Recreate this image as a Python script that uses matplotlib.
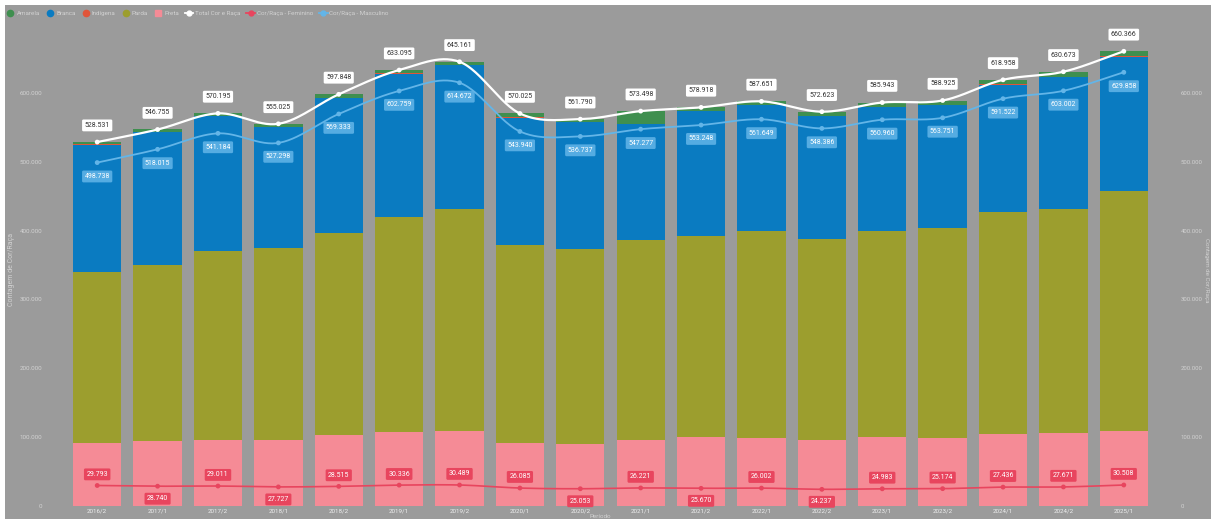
import matplotlib
matplotlib.use('Agg')
import matplotlib.pyplot as plt
from matplotlib.patches import Rectangle
from matplotlib.lines import Line2D
from matplotlib.ticker import FuncFormatter
import numpy as np

plt.rcParams['font.family'] = ['Roboto', 'DejaVu Sans']

# dados
periodos = ['2016/2', '2017/1', '2017/2', '2018/1', '2018/2', '2019/1', '2019/2', '2020/1', '2020/2',
            '2021/1', '2021/2', '2022/1', '2022/2', '2023/1', '2023/2', '2024/1', '2024/2', '2025/1']
total = [528531, 546755, 570195, 555025, 597848, 633095, 645161, 570025, 561790,
         573498, 578918, 587651, 572623, 585943, 588925, 618958, 630673, 660366]
masculino = [498738, 518015, 541184, 527298, 569333, 602759, 614672, 543940, 536737,
             547277, 553248, 561649, 548386, 560960, 563751, 591522, 603002, 629858]
feminino = [29793, 28740, 29011, 27727, 28515, 30336, 30489, 26085, 25053,
            26221, 25670, 26002, 24237, 24983, 25174, 27436, 27671, 30508]
preta = [92000, 94900, 95900, 95900, 103200, 108000, 109400, 92000, 90100,
         95900, 100700, 98800, 95900, 100300, 98800, 104700, 106100, 109400]
parda = [248000, 255400, 274700, 279100, 293600, 312000, 322300, 287400, 283400,
         290700, 291700, 300900, 292100, 299400, 305200, 322600, 325600, 348400]
branca = [184700, 192700, 195300, 174800, 195800, 207900, 208300, 184400, 184000,
          168100, 181300, 182700, 178400, 180000, 178600, 184500, 190800, 194900]
indigena = [430, 460, 395, 425, 448, 395, 461, 425, 390,
            398, 418, 451, 423, 443, 425, 358, 373, 366]
amarela = [3400, 3400, 3900, 4800, 4800, 4800, 4800, 5800, 3900,
           18400, 4800, 4800, 5800, 5800, 5800, 6800, 7800, 7300]

# cores
BG = '#9b9b9b'
C_AMARELA = '#3f8f4f'
C_BRANCA = '#0a7bc1'
C_INDIGENA = '#e0553a'
C_PARDA = '#9c9e2e'
C_PRETA = '#f58b96'
C_TOTAL = '#ffffff'
C_FEM = '#e8455e'
C_MASC = '#63b5e8'
C_TXT = '#d2d2d2'

W, H = 1211, 519


def fmt_br(v):
    return f'{int(round(v)):,}'.replace(',', '.')


def smooth(y, n=30):
    # curva suave (hermite / catmull-rom) so para desenhar a linha
    y = np.asarray(y, dtype=float)
    k = len(y)
    m = np.zeros(k)
    m[1:-1] = (y[2:] - y[:-2]) / 2
    m[0] = y[1] - y[0]
    m[-1] = y[-1] - y[-2]
    xs, ys = [], []
    for i in range(k - 1):
        t = np.linspace(0, 1, n, endpoint=False)
        h00 = 2 * t**3 - 3 * t**2 + 1
        h10 = t**3 - 2 * t**2 + t
        h01 = -2 * t**3 + 3 * t**2
        h11 = t**3 - t**2
        xs.append(i + t)
        ys.append(h00 * y[i] + h10 * m[i] + h01 * y[i + 1] + h11 * m[i + 1])
    xs.append([k - 1])
    ys.append([y[-1]])
    return np.concatenate(xs), np.concatenate(ys)


fig = plt.figure(figsize=(W / 100, H / 100), dpi=100)
fig.patch.set_facecolor('white')
fig.patches.append(Rectangle((5 / W, 0), 1, 1 - 5 / H, transform=fig.transFigure,
                             facecolor=BG, edgecolor='none', zorder=-10))

ax = fig.add_axes([67 / W, 13 / H, (1154 - 67) / W, (506 - 24) / H])
ax.set_facecolor('none')
x = np.arange(len(periodos))
wid = 0.8

bottom = np.zeros(len(x))
for vals, col in [(preta, C_PRETA), (parda, C_PARDA), (branca, C_BRANCA),
                  (indigena, C_INDIGENA), (amarela, C_AMARELA)]:
    ax.bar(x, vals, wid, bottom=bottom, color=col, edgecolor='none', zorder=2)
    bottom += np.array(vals)

for vals, col, lw in [(total, C_TOTAL, 1.6), (masculino, C_MASC, 1.3), (feminino, C_FEM, 1.2)]:
    sx, sy = smooth(vals)
    ax.plot(sx, sy, color=col, linewidth=lw, zorder=4)
    ax.scatter(x, vals, s=12, color=col, zorder=5, edgecolors='none')

for i in range(len(x)):
    ax.annotate(fmt_br(total[i]), (x[i], total[i]), xytext=(0, 12), textcoords='offset points',
                ha='center', va='center', fontsize=5, color='#333333', zorder=6,
                bbox=dict(boxstyle='round,pad=0.35,rounding_size=0.2', fc='white', ec='none'))
    ax.annotate(fmt_br(masculino[i]), (x[i], masculino[i]), xytext=(0, -10), textcoords='offset points',
                ha='center', va='center', fontsize=5, color='white', zorder=6,
                bbox=dict(boxstyle='round,pad=0.35,rounding_size=0.2', fc=C_MASC, ec='none', alpha=0.85))
    prev = feminino[i - 1] if i > 0 else np.inf
    nxt = feminino[i + 1] if i < len(x) - 1 else np.inf
    below = feminino[i] < prev and feminino[i] < nxt
    ax.annotate(fmt_br(feminino[i]), (x[i], feminino[i]), xytext=(0, -9 if below else 8),
                textcoords='offset points', ha='center', va='center', fontsize=5, color='white', zorder=6,
                bbox=dict(boxstyle='round,pad=0.35,rounding_size=0.2', fc=C_FEM, ec='none'))

ax.set_xlim(-0.5, len(x) - 0.5)
ax.set_ylim(0, 700000)
ax.set_yticks(np.arange(0, 700000, 100000))
ax.yaxis.set_major_formatter(FuncFormatter(lambda v, p: fmt_br(v)))
ax.set_xticks(x)
ax.set_xticklabels(periodos)
ax.tick_params(axis='x', length=0, pad=2, labelsize=4.5, colors='#eeeeee')
ax.tick_params(axis='y', length=0, pad=18, labelsize=4.5, colors=C_TXT)
for sp in ax.spines.values():
    sp.set_visible(False)

ax2 = ax.twinx()
ax2.set_ylim(ax.get_ylim())
ax2.set_yticks(np.arange(0, 700000, 100000))
ax2.yaxis.set_major_formatter(FuncFormatter(lambda v, p: fmt_br(v)))
ax2.tick_params(axis='y', length=0, pad=19, labelsize=4.3, colors=C_TXT)
for sp in ax2.spines.values():
    sp.set_visible(False)

fig.text(12 / W, 1 - 270 / H, 'Contagem de Cor/Raça', rotation=90, ha='center', va='center',
         fontsize=5, color=C_TXT)
fig.text(1206 / W, 1 - 270 / H, 'Contagem de Cor/Raça', rotation=270, ha='center', va='center',
         fontsize=4.5, color=C_TXT)
fig.text(600 / W, 1 - 516 / H, 'Período', ha='center', va='center', fontsize=4.5, color=C_TXT)

handles = [
    Line2D([], [], linestyle='none', marker='o', markersize=4.5, color=C_AMARELA),
    Line2D([], [], linestyle='none', marker='o', markersize=4.5, color=C_BRANCA),
    Line2D([], [], linestyle='none', marker='o', markersize=4.5, color=C_INDIGENA),
    Line2D([], [], linestyle='none', marker='o', markersize=4.5, color=C_PARDA),
    Line2D([], [], linestyle='none', marker='s', markersize=4.5, color=C_PRETA),
    Line2D([], [], marker='o', markersize=3.5, color=C_TOTAL, linewidth=1.3),
    Line2D([], [], marker='o', markersize=3.5, color=C_FEM, linewidth=1.3),
    Line2D([], [], marker='o', markersize=3.5, color=C_MASC, linewidth=1.3),
]
labels = ['Amarela', 'Branca', 'Indígena', 'Parda', 'Preta', 'Total Cor e Raça',
          'Cor/Raça - Feminino', 'Cor/Raça - Masculino']
fig.legend(handles, labels, loc='center left', bbox_to_anchor=(6 / W, 1 - 13 / H), ncol=8,
           frameon=False, fontsize=4.5, labelcolor=C_TXT, handletextpad=0.3, columnspacing=0.9,
           handlelength=1.4, borderpad=0, borderaxespad=0)

fig.savefig('out.png', dpi=100, facecolor=fig.get_facecolor())
